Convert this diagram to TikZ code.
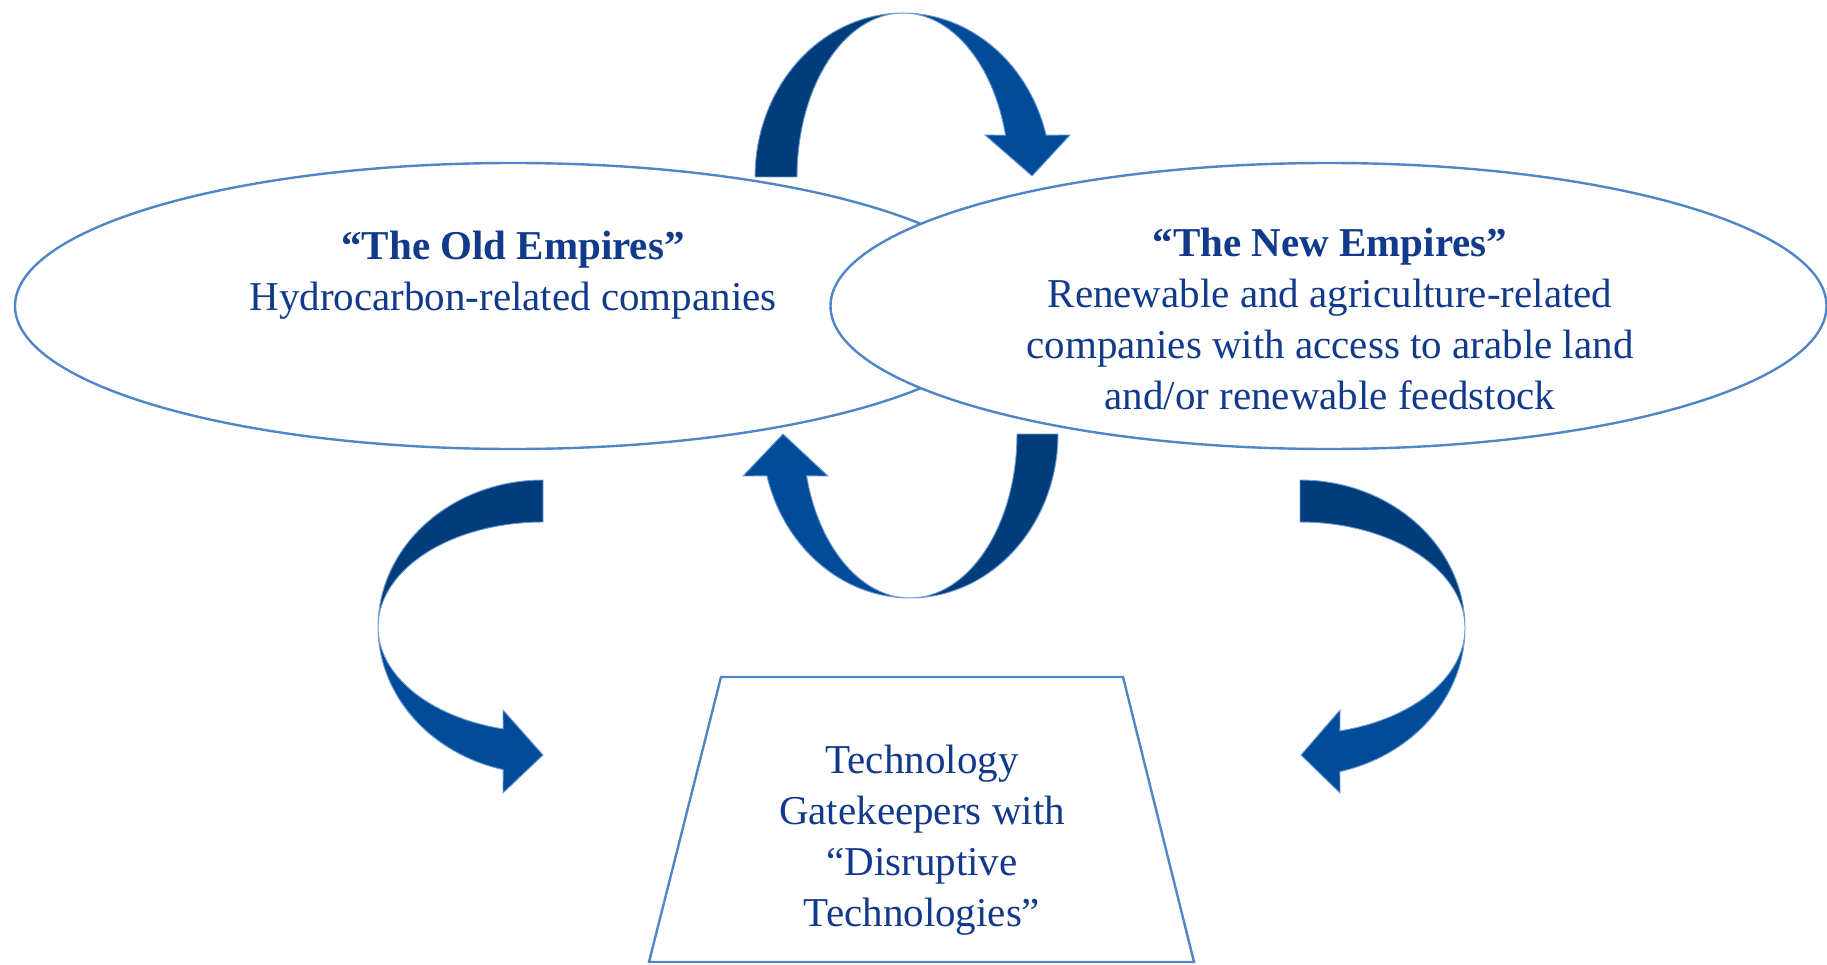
\documentclass[tikz,border=0pt]{standalone}
\usepackage{fontspec}
\setmainfont{Liberation Serif}
\usetikzlibrary{shapes.geometric}

\definecolor{textblue}{RGB}{18,58,138}
\definecolor{lineblue}{RGB}{79,134,198}
\definecolor{arrowdark}{RGB}{0,61,122}
\definecolor{arrowlight}{RGB}{0,76,152}
\definecolor{arrowrim}{RGB}{110,155,215}

\tikzset{
  empire/.style={ellipse, draw=lineblue, line width=2.4pt, fill=white,
    minimum width=996pt, minimum height=286pt, inner sep=0pt},
  bodytext/.style={text=textblue, align=center,
    font=\fontsize{41}{51}\selectfont},
  bandback/.style={fill=arrowdark, draw=arrowrim, line width=0.9pt, line join=round},
  bandfront/.style={fill=arrowlight, draw=arrowrim, line width=0.9pt, line join=miter},
  gatebox/.style={draw=lineblue, line width=2.4pt, fill=white, line join=miter},
}

\begin{document}
\begin{tikzpicture}[x=1pt,y=-1pt]
\useasboundingbox (0,0) rectangle (1827,965);

% the two empires
\node[empire] (oldemp) at (513,306) {};
\node[empire] (newemp) at (1328.5,306) {};

\node[bodytext] (oldtxt) at (513,275)
  {\textbf{“The Old Empires”}\\Hydrocarbon-related companies};
\node[bodytext] (newtxt) at (1330,319)
  {\textbf{“The New Empires”}\\Renewable and agriculture-related\\companies with access to arable land\\and/or renewable feedstock};

% gatekeeper trapezium
\coordinate (gtl) at (721,677);
\coordinate (gtr) at (1123,677);
\coordinate (gbr) at (1194,962);
\coordinate (gbl) at (649,962);
\draw[gatebox] (gtl) -- (gtr) -- (gbr) -- (gbl) -- cycle;
\node[bodytext] (gatetxt) at (922,840)
  {Technology\\Gatekeepers with\\“Disruptive\\Technologies”};

% top curved arrow: old -> new
\fill[bandback] plot[domain=180:90,samples=40,variable=\t] ({903+148*cos(\t)},{177-164*sin(\t)})
  -- plot[domain=90:180,samples=40,variable=\t] ({903+106*cos(\t)},{177-164*sin(\t)}) -- cycle;
\filldraw[bandfront] plot[domain=90:14.8,samples=40,variable=\t] ({903+148*cos(\t)},{177-164*sin(\t)})
  -- (1070,135) -- (1032,176) -- (985,135)
  -- plot[domain=14.8:90,samples=40,variable=\t] ({903+106*cos(\t)},{177-164*sin(\t)}) -- cycle;

% bottom curved arrow: new -> old
\filldraw[bandback] plot[domain=360:270,samples=40,variable=\t] ({910+148*cos(\t)},{434-164*sin(\t)})
  -- plot[domain=270:360,samples=40,variable=\t] ({910+107*cos(\t)},{434-164*sin(\t)}) -- cycle;
\filldraw[bandfront] plot[domain=270:194.8,samples=40,variable=\t] ({910+148*cos(\t)},{434-164*sin(\t)})
  -- (743,476) -- (783,434) -- (828,476)
  -- plot[domain=194.8:270,samples=40,variable=\t] ({910+107*cos(\t)},{434-164*sin(\t)}) -- cycle;

% left curved arrow: old -> gatekeepers
\filldraw[bandback] plot[domain=90:180,samples=40,variable=\t] ({543+165*cos(\t)},{627-147*sin(\t)})
  -- plot[domain=180:90,samples=40,variable=\t] ({543+165*cos(\t)},{627-105*sin(\t)}) -- cycle;
\filldraw[bandfront] plot[domain=180:256,samples=40,variable=\t] ({543+165*cos(\t)},{627-147*sin(\t)})
  -- (503,793) -- (543,755) -- (503,710)
  -- plot[domain=256:180,samples=40,variable=\t] ({543+165*cos(\t)},{627-105*sin(\t)}) -- cycle;

% right curved arrow: new -> gatekeepers
\filldraw[bandback] plot[domain=90:0,samples=40,variable=\t] ({1300+165*cos(\t)},{628-148*sin(\t)})
  -- plot[domain=0:90,samples=40,variable=\t] ({1300+165*cos(\t)},{628-106*sin(\t)}) -- cycle;
\filldraw[bandfront] plot[domain=0:-76,samples=40,variable=\t] ({1300+165*cos(\t)},{628-148*sin(\t)})
  -- (1340,793) -- (1301,755) -- (1340,710)
  -- plot[domain=-76:0,samples=40,variable=\t] ({1300+165*cos(\t)},{628-106*sin(\t)}) -- cycle;
\end{tikzpicture}
\end{document}
